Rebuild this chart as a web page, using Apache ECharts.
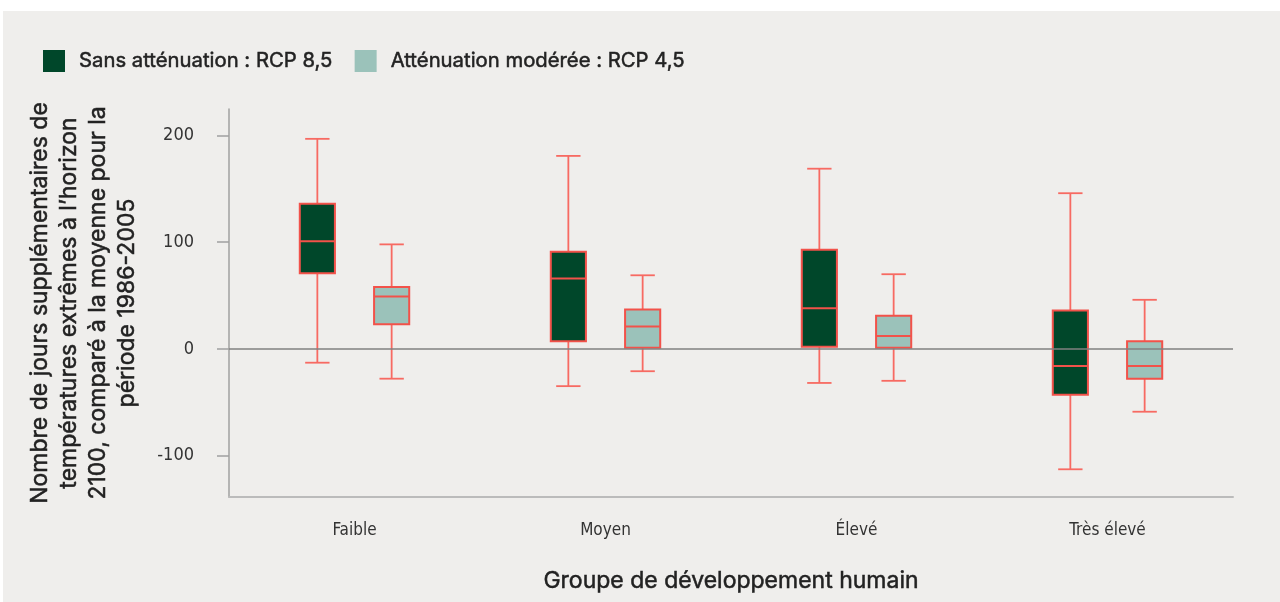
<!DOCTYPE html>
<html>
<head>
<meta charset="utf-8">
<script src="https://cdn.jsdelivr.net/npm/echarts@6/dist/echarts.min.js"></script>
<style>
html,body{margin:0;padding:0;background:#ffffff;}
#chart{width:1280px;height:602px;}
</style>
</head>
<body>
<div id="chart"></div>
<script>
// Data
const categories = ['Faible', 'Moyen', 'Élevé', 'Très élevé'];
const seriesNames = ['Sans atténuation : RCP 8,5', 'Atténuation modérée : RCP 4,5'];
// [low, Q1, median, Q3, high]
const rcp85 = [
  [-13, 71, 101, 136, 197],
  [-35, 7, 66, 91, 181],
  [-32, 2, 38, 93, 169],
  [-113, -43, -16, 36, 146]
];
const rcp45 = [
  [-28, 23, 49, 58, 98],
  [-21, 1, 21, 37, 69],
  [-30, 1, 12, 31, 70],
  [-59, -28, -16, 7, 46]
];
const yTicks = [-100, 0, 100, 200];
const yMin = -139, yMax = 225;

const boxColors = ['#00472a', '#9bc2ba'];
const strokeColor = '#f2524a';
const whiskerColor = '#f76a62';

function makeData(arr) {
  return arr.map((v, i) => [i, v[0], v[1], v[2], v[3], v[4]]);
}

function makeRender(sign, fill) {
  return function (params, api) {
    const idx = api.value(0);
    const band = api.size([1, 0])[0];
    const cx = api.coord([idx, 0])[0] + sign * 0.148 * band;
    const boxW = 0.14 * band;
    const capW = 0.097 * band;
    const yLow = api.coord([idx, api.value(1)])[1];
    const yQ1 = api.coord([idx, api.value(2)])[1];
    const yMed = api.coord([idx, api.value(3)])[1];
    const yQ3 = api.coord([idx, api.value(4)])[1];
    const yHigh = api.coord([idx, api.value(5)])[1];
    const ws = {stroke: whiskerColor, lineWidth: 1.8};
    const bs = {stroke: strokeColor, lineWidth: 2};
    return {
      type: 'group',
      children: [
        {type: 'line', shape: {x1: cx, y1: yHigh, x2: cx, y2: yQ3}, style: ws},
        {type: 'line', shape: {x1: cx, y1: yQ1, x2: cx, y2: yLow}, style: ws},
        {type: 'line', shape: {x1: cx - capW / 2, y1: yHigh, x2: cx + capW / 2, y2: yHigh}, style: ws},
        {type: 'line', shape: {x1: cx - capW / 2, y1: yLow, x2: cx + capW / 2, y2: yLow}, style: ws},
        {type: 'rect', shape: {x: cx - boxW / 2, y: yQ3, width: boxW, height: yQ1 - yQ3},
          style: {fill: fill, stroke: strokeColor, lineWidth: 2}},
        {type: 'line', shape: {x1: cx - boxW / 2, y1: yMed, x2: cx + boxW / 2, y2: yMed}, style: bs}
      ]
    };
  };
}

const textFont = 'Inter, "Open Sans", sans-serif';
const condFont = '"Liberation Sans Narrow", "DejaVu Sans Condensed", Roboto, sans-serif';
const textDark = '#222222';

const chart = echarts.init(document.getElementById('chart'), null, {renderer: 'canvas'});
chart.setOption({
  animation: false,
  backgroundColor: 'transparent',
  graphic: [{
    type: 'rect', z: -100, silent: true,
    shape: {x: 3, y: 11, width: 1277, height: 591},
    style: {fill: '#efeeec'}
  }],
  legend: {
    left: 43, top: 50, padding: 0,
    icon: 'rect',
    itemWidth: 22, itemHeight: 22, itemGap: 22,
    textStyle: {fontFamily: textFont, fontWeight: 'normal', fontSize: 20.3, color: textDark,
      textBorderColor: textDark, textBorderWidth: 0.5, padding: [0, 0, 0, 9]},
    data: [
      {name: seriesNames[0], itemStyle: {color: boxColors[0], borderWidth: 0}},
      {name: seriesNames[1], itemStyle: {color: boxColors[1], borderWidth: 0}}
    ]
  },
  grid: {left: 229, right: 47, top: 109, bottom: 105, containLabel: false},
  xAxis: {
    type: 'category',
    data: categories,
    name: 'Groupe de développement humain',
    nameLocation: 'middle',
    nameGap: 73,
    nameTextStyle: {fontFamily: textFont, fontWeight: 'normal', fontSize: 23, color: textDark,
      textBorderColor: textDark, textBorderWidth: 0.5},
    axisLine: {onZero: false, lineStyle: {color: '#bbbbbb', width: 2}},
    axisTick: {show: false},
    axisLabel: {fontFamily: condFont, fontSize: 17, color: '#333', margin: 25}
  },
  yAxis: {
    type: 'value',
    min: yMin, max: yMax,
    name: 'Nombre de jours supplémentaires de\ntempératures extrêmes à l\u2019horizon\n2100, comparé à la moyenne pour la\npériode 1986-2005',
    nameLocation: 'middle',
    nameRotate: 90,
    nameGap: 87,
    nameTextStyle: {fontFamily: textFont, fontWeight: 'normal', fontSize: 23, color: textDark,
      textBorderColor: textDark, textBorderWidth: 0.5, lineHeight: 29, align: 'center'},
    axisLine: {show: true, lineStyle: {color: '#a0a0a0', width: 1.5}},
    axisTick: {show: true, length: 12, customValues: yTicks, lineStyle: {color: '#a0a0a0', width: 1.5}},
    axisLabel: {customValues: yTicks, fontFamily: condFont, fontSize: 18, color: '#333', margin: 35},
    splitLine: {show: false}
  },
  series: [
    {
      name: seriesNames[0],
      type: 'custom',
      itemStyle: {color: boxColors[0]},
      renderItem: makeRender(-1, boxColors[0]),
      encode: {x: 0, y: [1, 2, 3, 4, 5]},
      data: makeData(rcp85),
      z: 3,
      markLine: {
        silent: true, symbol: 'none', label: {show: false},
        lineStyle: {color: '#808080', width: 1.5, type: 'solid'},
        data: [{yAxis: 0}]
      }
    },
    {
      name: seriesNames[1],
      type: 'custom',
      itemStyle: {color: boxColors[1]},
      renderItem: makeRender(1, boxColors[1]),
      encode: {x: 0, y: [1, 2, 3, 4, 5]},
      data: makeData(rcp45),
      z: 3
    }
  ]
});
</script>
</body>
</html>
